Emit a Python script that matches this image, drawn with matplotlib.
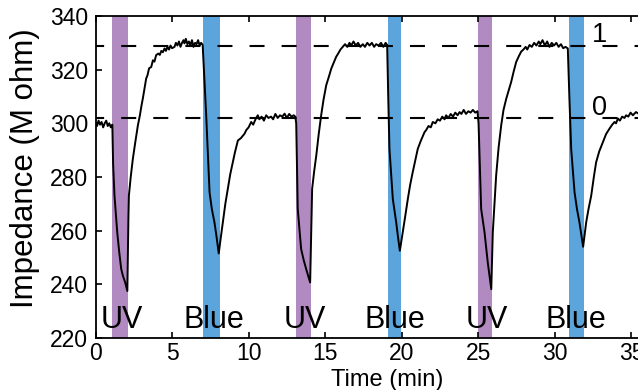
import matplotlib
matplotlib.use("Agg")
import matplotlib.pyplot as plt

plt.rcParams['font.family'] = ['Liberation Sans', 'DejaVu Sans']

# ---- data ----
time_min = [
    0.0, 0.1, 0.2, 0.3, 0.4, 0.5, 0.6, 0.7, 0.8, 0.9, 1.0, 1.1,
    1.15, 1.24, 1.42, 1.55, 1.68, 1.8, 1.94, 2.08,
    2.15, 2.18, 2.3, 2.44, 2.6, 2.77, 2.9, 3.0, 3.09, 3.2, 3.31, 3.4, 3.5, 3.64, 3.75, 3.85,
    3.96, 4.1, 4.2, 4.3, 4.4, 4.51, 4.6, 4.7, 4.8, 4.9, 5.0, 5.16, 5.25, 5.35, 5.45, 5.55,
    5.65, 5.75, 5.81, 5.9, 6.0, 6.1, 6.2, 6.3, 6.4, 6.5, 6.6, 6.7, 6.8, 6.9, 7.0,
    7.1, 7.23, 7.35, 7.45, 7.6, 7.77, 7.9, 8.05,
    8.15, 8.32, 8.48, 8.64, 8.8, 8.97, 9.1, 9.3, 9.5, 9.73, 9.85, 10.0, 10.17, 10.3, 10.45,
    10.6, 10.7, 10.85, 11.0, 11.15, 11.3, 11.47, 11.6, 11.75, 11.9, 12.05, 12.2, 12.35,
    12.5, 12.65, 12.8, 12.95, 13.05,
    13.11, 13.21, 13.43, 13.6, 13.76, 13.9, 14.02,
    14.1, 14.15, 14.28, 14.42, 14.58, 14.74, 14.9, 15.07, 15.25, 15.4, 15.55, 15.72, 15.85,
    16.0, 16.15, 16.3, 16.45, 16.59, 16.7, 16.85, 17.0, 17.15, 17.3, 17.46, 17.6, 17.75,
    17.9, 18.05, 18.2, 18.33, 18.5, 18.65, 18.8, 18.95, 19.05,
    19.12, 19.2, 19.42, 19.64, 19.75, 19.88,
    20.07, 20.22, 20.4, 20.55, 20.72, 20.9, 21.05, 21.25, 21.49, 21.6, 21.75, 21.9, 22.03,
    22.2, 22.35, 22.5, 22.65, 22.8, 22.9, 23.05, 23.2, 23.35, 23.5, 23.65, 23.78, 23.9,
    24.05, 24.2, 24.35, 24.5, 24.65, 24.8, 24.95,
    25.02, 25.19, 25.41, 25.62, 25.85,
    25.95, 26.17, 26.33, 26.5, 26.65, 26.83, 27.0, 27.15, 27.3, 27.48, 27.65, 27.8, 27.95,
    28.1, 28.2, 28.35, 28.5, 28.65, 28.8, 28.95, 29.05, 29.2, 29.35, 29.5, 29.65, 29.8,
    29.95, 30.1, 30.25, 30.4, 30.55, 30.7, 30.85,
    30.95, 31.07, 31.29, 31.45, 31.61, 31.72, 31.85,
    32.05, 32.2, 32.38, 32.55, 32.7, 32.9, 33.14, 33.35, 33.57, 33.75, 33.9, 34.0, 34.12,
    34.25, 34.4, 34.55, 34.66, 34.8, 34.95, 35.1, 35.3, 35.5, 35.7, 35.9,
]
impedance = [
    300, 299, 301, 299.5, 300.5, 298.5, 300, 301, 299, 300, 298.5, 299.5,
    285, 273, 259.4, 252, 245.7, 243, 240.7, 237.5,
    265, 273, 280, 286.8, 293, 299.3, 303, 306.5, 309.2, 313, 316.7, 318, 320.5, 321, 323.5, 323,
    325.4, 326, 325.5, 327, 326.5, 327.9, 327, 328.5, 327.5, 329, 328, 328.5, 330, 329, 330.5, 328.5,
    330, 331, 329.8, 331.5, 329.5, 330.5, 329, 331, 328.5, 330, 329.5, 331, 329, 330, 329.2,
    318, 303, 287, 274.3, 268, 263.1, 258, 251.5,
    256, 263.1, 270, 275.6, 281, 285.5, 289, 293.6, 294.5, 296.1, 297.5, 298.5, 300.5, 299.5, 301.5,
    303, 301.5, 302.5, 301, 303, 302, 302.5, 301.5, 303.5, 302, 303, 302.5, 303.6,
    302, 303.5, 302.5, 303, 302.5,
    300, 268.1, 253.2, 249, 245.7, 243, 240.7,
    262, 275.6, 282, 288, 296, 303, 309, 314.2, 317.5, 320.4, 322.5, 324.8, 326,
    327.5, 328.5, 329.5, 328.5, 330, 329, 330.5, 329, 330, 328.5, 329.5, 328.5, 330,
    329, 330, 328.5, 329.5, 329, 330, 328.5, 330, 329.2,
    310, 290.5, 271.8, 263.1, 258, 252.5,
    259.4, 265, 271.8, 277, 281.8, 286.5, 290.5, 293.5, 296.7, 297.5, 299, 298.5, 300.5,
    300, 301.5, 301, 302.5, 301.5, 303, 302, 303.5, 302.5, 304, 303, 304.2, 303.5,
    305, 303.5, 304.5, 304, 305, 304, 304.5,
    300, 268.1, 259.4, 248.2, 238.2,
    259.4, 280.6, 291, 299.3, 305, 309.2, 312.5, 315.4, 319, 322.9, 325, 326.7, 327.5,
    328.5, 327.5, 329.2, 328.5, 330, 329, 330.5, 329.5, 331, 329, 330.5, 328.5, 330,
    329, 330, 328.5, 329.5, 328, 328.5, 327.9,
    310, 290.5, 274.3, 268, 263.1, 259, 254,
    263.1, 268, 273.1, 280, 285.5, 289.5, 293, 296, 298, 299.5, 300.5, 300, 301.8,
    301, 302.5, 302, 303, 302.5, 304, 303, 304.2, 303.5, 304.5, 304,
]

light_names = ["UV", "Blue", "UV", "Blue", "UV", "Blue"]
light_start = [1.1, 7.05, 13.1, 19.1, 25.0, 30.9]
light_end = [2.1, 8.1, 14.1, 19.95, 25.9, 31.9]
label_x = [1.75, 7.7, 13.65, 19.55, 25.55, 31.35]
state_levels = [329, 302]
state_labels = ["1", "0"]

colors = {"UV": "#b08ac0", "Blue": "#5ba4dc"}

W, H = 638, 390
fig = plt.figure(figsize=(W / 100, H / 100), dpi=100)
left_px, bottom_px, top_px = 95.5, 338, 16
ax_w_px = 36 * 15.31
ax = fig.add_axes([left_px / W, (H - bottom_px) / H, ax_w_px / W, (bottom_px - top_px) / H])

for name, s, e in zip(light_names, light_start, light_end):
    ax.axvspan(s, e, color=colors[name], lw=0, zorder=1)

for lvl in state_levels:
    ax.axhline(lvl, color="black", lw=1.5, linestyle=(3.3, (7.2, 8.2)), zorder=2)

ax.plot(time_min, impedance, color="black", lw=1.4, zorder=3)

for name, x in zip(light_names, label_x):
    ax.text(x, 223.7, name, fontsize=22, ha="center", va="baseline", zorder=4)

for lvl, lab in zip(state_levels, state_labels):
    ax.text(32.45, lvl + 1.2, lab, fontsize=19.5, ha="left", va="baseline", zorder=4)

ax.set_xlim(0, 36)
ax.set_ylim(220, 340)
ax.set_xticks([0, 5, 10, 15, 20, 25, 30, 35])
ax.set_yticks([220, 240, 260, 280, 300, 320, 340])
ax.tick_params(axis="both", direction="in", length=4, width=1.2, labelsize=16.5,
               top=True, right=True)
ax.tick_params(axis="y", pad=5.5)
ax.tick_params(axis="x", pad=3)
for sp in ax.spines.values():
    sp.set_linewidth(1.3)

ax.set_ylabel("Impedance (M ohm)", fontsize=22.5)
ax.yaxis.set_label_coords(-0.1, 0.528)
ax.set_xlabel("Time (min)", fontsize=17)
ax.xaxis.set_label_coords(0.529, -0.095)
ax.xaxis.label.set_va("top")

fig.savefig("out.png", dpi=100)
